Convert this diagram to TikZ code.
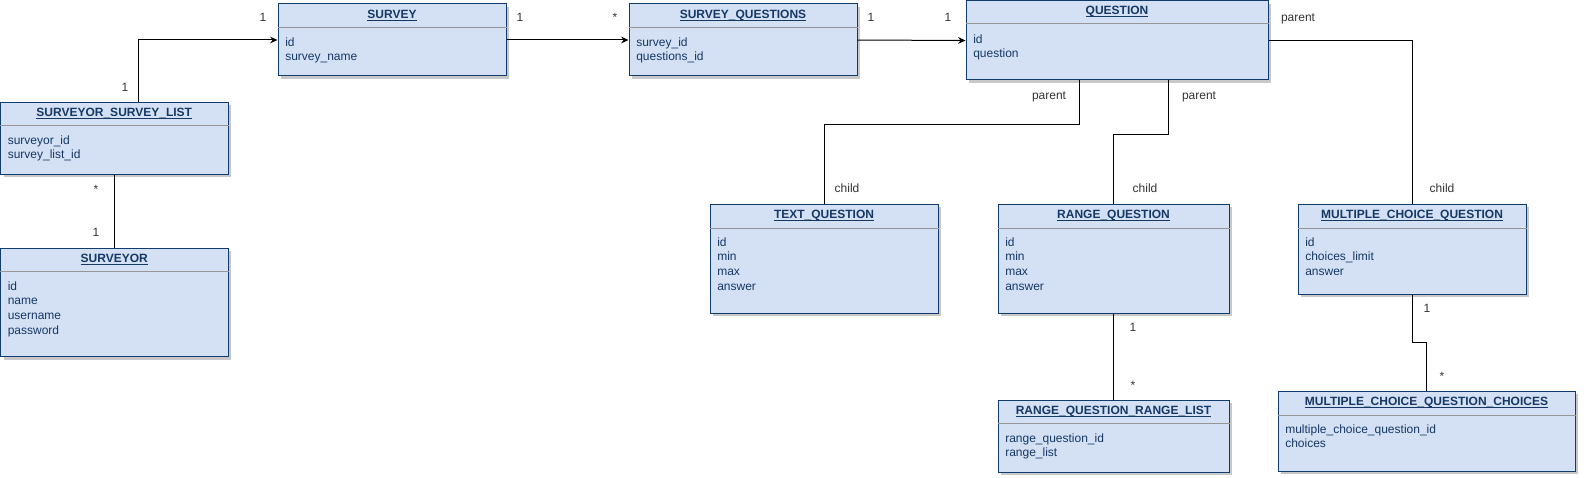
\documentclass[tikz,border=0pt]{standalone}
\usepackage{fontspec}
\setmainfont{Liberation Sans}
\usetikzlibrary{arrows.meta,calc,fit,shadows}

\definecolor{tblfill}{RGB}{212,225,245}
\definecolor{tblline}{RGB}{16,60,110}
\definecolor{tbltext}{RGB}{22,56,100}
\definecolor{sepgray}{RGB}{150,150,150}
\definecolor{shadowgray}{RGB}{200,200,200}

\tikzset{
    tbl/.style={draw=tblline, fill=tblfill, line width=0.75pt, inner sep=0pt,
        drop shadow={shadow xshift=2.25pt, shadow yshift=-2.25pt, fill=shadowgray, opacity=1}},
    ttl/.style={anchor=base, inner sep=0pt, text=tbltext, font=\fontsize{9pt}{11pt}\selectfont\bfseries},
    attr/.style={anchor=base west, inner sep=0pt, text=tbltext, font=\fontsize{9pt}{11pt}\selectfont},
    sepline/.style={draw=sepgray, line width=0.75pt},
    lbl/.style={anchor=base, inner sep=0pt, text=black!80, font=\fontsize{9pt}{11pt}\selectfont},
    rel/.style={draw=black, line width=0.75pt},
    arr/.style={rel, -{Stealth[length=5.5pt, width=5pt]}}
}

\begin{document}
\begin{tikzpicture}[x=0.75pt, y=-0.75pt]

    \useasboundingbox (0,0) rectangle (1584,478);

    % tables
    \node[tbl, fit={(278,4) (506,76)}] (survey) {};
    \node[ttl] (survey-t) at ($(survey.north)+(0,15)$) {\underline{\smash{SURVEY}}};
    \draw[sepline] ($(survey.north west)+(0,24)$) -- ($(survey.north east)+(0,24)$);
    \foreach \a [count=\i] in {id,survey\_name}
        \node[attr] (survey-\i) at ($(survey.north west)+(7.5,28+14.67*\i)$) {\a};

    \node[tbl, fit={(629,4) (857,76)}] (sq) {};
    \node[ttl] (sq-t) at ($(sq.north)+(0,15)$) {\underline{\smash{SURVEY\_QUESTIONS}}};
    \draw[sepline] ($(sq.north west)+(0,24)$) -- ($(sq.north east)+(0,24)$);
    \foreach \a [count=\i] in {survey\_id,questions\_id}
        \node[attr] (sq-\i) at ($(sq.north west)+(7.5,28+14.67*\i)$) {\a};

    \node[tbl, fit={(966,1) (1268,80)}] (question) {};
    \node[ttl] (question-t) at ($(question.north)+(0,14)$) {\underline{\smash{QUESTION}}};
    \draw[sepline] ($(question.north west)+(0,23.5)$) -- ($(question.north east)+(0,23.5)$);
    \foreach \a [count=\i] in {id,question}
        \node[attr] (question-\i) at ($(question.north west)+(7.5,28+14.67*\i)$) {\a};

    \node[tbl, fit={(0.5,102) (228,174)}] (ssl) {};
    \node[ttl] (ssl-t) at ($(ssl.north)+(0,15)$) {\underline{\smash{SURVEYOR\_SURVEY\_LIST}}};
    \draw[sepline] ($(ssl.north west)+(0,24)$) -- ($(ssl.north east)+(0,24)$);
    \foreach \a [count=\i] in {surveyor\_id,survey\_list\_id}
        \node[attr] (ssl-\i) at ($(ssl.north west)+(7.5,28+14.67*\i)$) {\a};

    \node[tbl, fit={(0.5,248) (228,356.5)}] (surveyor) {};
    \node[ttl] (surveyor-t) at ($(surveyor.north)+(0,15)$) {\underline{\smash{SURVEYOR}}};
    \draw[sepline] ($(surveyor.north west)+(0,24)$) -- ($(surveyor.north east)+(0,24)$);
    \foreach \a [count=\i] in {id,name,username,password}
        \node[attr] (surveyor-\i) at ($(surveyor.north west)+(7.5,28+14.67*\i)$) {\a};

    \node[tbl, fit={(710,204) (938,313)}] (textq) {};
    \node[ttl] (textq-t) at ($(textq.north)+(0,15)$) {\underline{\smash{TEXT\_QUESTION}}};
    \draw[sepline] ($(textq.north west)+(0,24.5)$) -- ($(textq.north east)+(0,24.5)$);
    \foreach \a [count=\i] in {id,min,max,answer}
        \node[attr] (textq-\i) at ($(textq.north west)+(7.5,28+14.67*\i)$) {\a};

    \node[tbl, fit={(998,204) (1229,313)}] (rangeq) {};
    \node[ttl] (rangeq-t) at ($(rangeq.north)+(0,15)$) {\underline{\smash{RANGE\_QUESTION}}};
    \draw[sepline] ($(rangeq.north west)+(0,24.5)$) -- ($(rangeq.north east)+(0,24.5)$);
    \foreach \a [count=\i] in {id,min,max,answer}
        \node[attr] (rangeq-\i) at ($(rangeq.north west)+(7.5,28+14.67*\i)$) {\a};

    \node[tbl, fit={(1298,204) (1526,294)}] (mcq) {};
    \node[ttl] (mcq-t) at ($(mcq.north)+(0,15)$) {\underline{\smash{MULTIPLE\_CHOICE\_QUESTION}}};
    \draw[sepline] ($(mcq.north west)+(0,24.5)$) -- ($(mcq.north east)+(0,24.5)$);
    \foreach \a [count=\i] in {id,choices\_limit,answer}
        \node[attr] (mcq-\i) at ($(mcq.north west)+(7.5,28+14.67*\i)$) {\a};

    \node[tbl, fit={(998,400) (1229,472)}] (rqrl) {};
    \node[ttl] (rqrl-t) at ($(rqrl.north)+(0,15)$) {\underline{\smash{RANGE\_QUESTION\_RANGE\_LIST}}};
    \draw[sepline] ($(rqrl.north west)+(0,24)$) -- ($(rqrl.north east)+(0,24)$);
    \foreach \a [count=\i] in {range\_question\_id,range\_list}
        \node[attr] (rqrl-\i) at ($(rqrl.north west)+(7.5,28+14.67*\i)$) {\a};

    \node[tbl, fit={(1278,391) (1575,471)}] (mcqc) {};
    \node[ttl] (mcqc-t) at ($(mcqc.north)+(0,15)$) {\underline{\smash{MULTIPLE\_CHOICE\_QUESTION\_CHOICES}}};
    \draw[sepline] ($(mcqc.north west)+(0,24.5)$) -- ($(mcqc.north east)+(0,24.5)$);
    \foreach \a [count=\i] in {multiple\_choice\_question\_id,choices}
        \node[attr] (mcqc-\i) at ($(mcqc.north west)+(7.5,28+14.67*\i)$) {\a};

    % relations
    \draw[arr] ($(ssl.north west)+(138.5,0)$) |- (survey.west);
    \draw[arr] (survey.east) -- (sq.west);
    \draw[arr] (sq.east) -- (question.west);
    \draw[rel] (ssl.south) -- (surveyor.north);
    \draw[rel] ($(question.south west)+(114,0)$) -- ++(0,44.3) -| (textq.north);
    \draw[rel] ($(question.south west)+(203,0)$) -- ++(0,54.3) -| (rangeq.north);
    \draw[rel] (question.east) -| (mcq.north);
    \draw[rel] (rangeq.south) -- (rqrl.north);
    \draw[rel] (mcq.south) -- ++(0,48.3) -| (mcqc.north);

    % multiplicities
    \node[lbl] (m1) at (263,21.5) {1};
    \node[lbl] (m2) at (520,21.5) {1};
    \node[lbl] (m3) at (615,22) {*};
    \node[lbl] (m4) at (871,21.5) {1};
    \node[lbl] (m5) at (948,21.5) {1};
    \node[lbl] (m6) at (125,91) {1};
    \node[lbl] (m7) at (96,193.5) {*};
    \node[lbl] (m8) at (96,236.5) {1};
    \node[lbl] (m9) at (1133,331) {1};
    \node[lbl] (m10) at (1133,389.5) {*};
    \node[lbl] (m11) at (1427,312.5) {1};
    \node[lbl] (m12) at (1442,380) {*};
    \node[lbl] (p1) at (1049,99) {parent};
    \node[lbl] (p2) at (1199,99) {parent};
    \node[lbl] (p3) at (1298,22) {parent};
    \node[lbl] (c1) at (847,192) {child};
    \node[lbl] (c2) at (1145,192) {child};
    \node[lbl] (c3) at (1442,192) {child};

\end{tikzpicture}
\end{document}
